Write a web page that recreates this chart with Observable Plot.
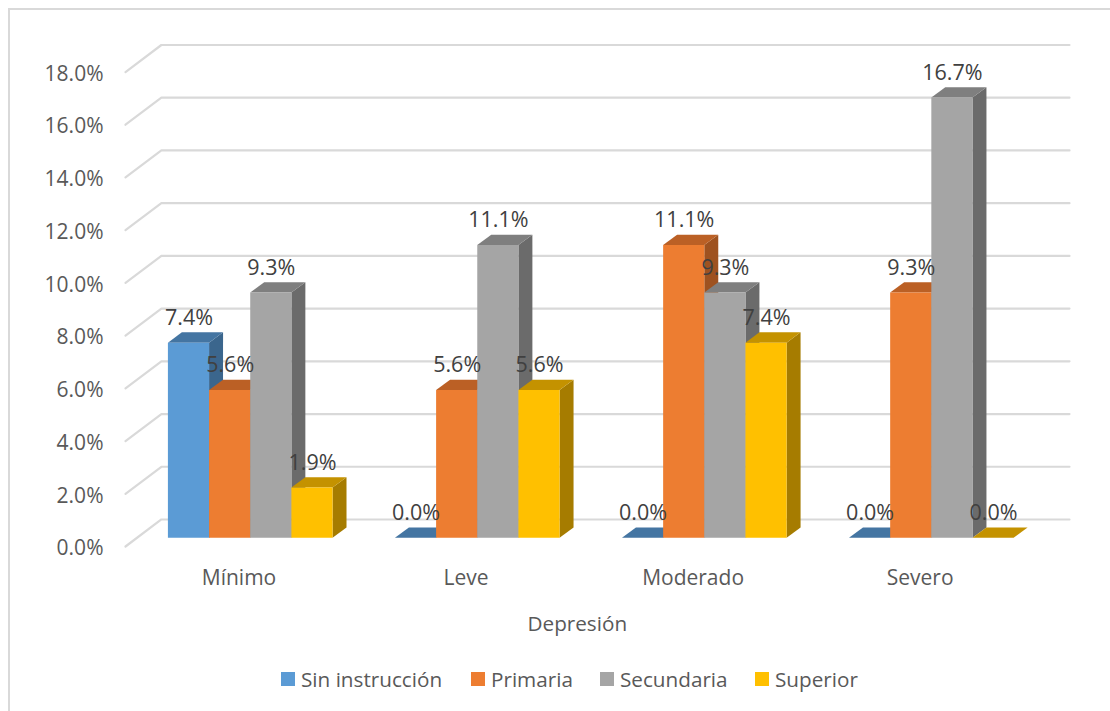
<!DOCTYPE html>
<html lang="es">
<head>
<meta charset="utf-8">
<script src="https://cdn.jsdelivr.net/npm/d3@7"></script>
<script src="https://cdn.jsdelivr.net/npm/@observablehq/plot@0.6"></script>
<style>
  html, body { margin: 0; padding: 0; background: #fff; overflow: hidden; }
  #chart { position: relative; width: 1110px; height: 711px; box-sizing: border-box; font-family: "Open Sans", sans-serif; }
  #frame { position: absolute; left: 8px; top: 8px; right: 0; bottom: 0; border-left: 2.5px solid #d9d9d9; border-top: 2.5px solid #d9d9d9; }
  #plot { position: absolute; left: 0; top: 0; }
  #plot svg { background: transparent; }
  #legend { position: absolute; left: 0; top: 664px; width: 1110px; height: 30px; }
  .item { position: absolute; top: 0; height: 30px; display: flex; align-items: center; color: #595959; font-size: 20.7px; white-space: nowrap; }
  .swatch { display: inline-block; width: 14px; height: 14px; margin-right: 6px; }
</style>
</head>
<body>
<div id="chart">
  <div id="frame"></div>
  <div id="plot"></div>
  <div id="legend"></div>
</div>
<script>
const categories = ["Mínimo", "Leve", "Moderado", "Severo"];
const sinInstruccion = [7.4, 0.0, 0.0, 0.0];
const primaria = [5.6, 5.6, 11.1, 9.3];
const secundaria = [9.3, 11.1, 9.3, 16.7];
const superior = [1.9, 5.6, 7.4, 0.0];
const seriesNames = ["Sin instrucción", "Primaria", "Secundaria", "Superior"];
const seriesValues = [sinInstruccion, primaria, secundaria, superior];
const yTicks = [0, 2, 4, 6, 8, 10, 12, 14, 16, 18];
const axisTitle = "Depresión";

// Shades per series: front, top, side
const frontColors = ["#5b9bd5", "#ed7d31", "#a5a5a5", "#ffc000"];
const topColors = ["#4475a2", "#bb6025", "#7f7f7f", "#c49200"];
const sideColors = ["#3b668d", "#9e5220", "#6b6b6b", "#a67c00"];
const legendX = [281, 471, 600, 755];

// Projection of the pseudo-3D box, in data units of the two scales
const floorDX = 0.158, floorDY = 1.025;   // depth of the chart floor
const barDX = 0.0615, barDY = 0.391;      // depth of a bar
const barBase = 0.315;                    // front edge of bars above the floor edge
const barStart = 0.189, barWidth = 0.1813;
const xMax = categories.length + floorDX;

const faces = [];
let id = 0;
categories.forEach((cat, g) => {
  seriesValues.forEach((vals, s) => {
    const x0 = g + barStart + s * barWidth, x1 = x0 + barWidth;
    const y0 = barBase, y1 = barBase + vals[g];
    // side face
    id++;
    faces.push({id, fill: sideColors[s], x: x1, y1: y0, y2: y1});
    faces.push({id, fill: sideColors[s], x: x1 + barDX, y1: y0 + barDY, y2: y1 + barDY});
    // top face
    id++;
    faces.push({id, fill: topColors[s], x: x0, y1: y1, y2: y1});
    faces.push({id, fill: topColors[s], x: x0 + barDX, y1: y1, y2: y1 + barDY});
    faces.push({id, fill: topColors[s], x: x1, y1: y1, y2: y1 + barDY});
    faces.push({id, fill: topColors[s], x: x1 + barDX, y1: y1 + barDY, y2: y1 + barDY});
    // front face
    id++;
    faces.push({id, fill: frontColors[s], x: x0, y1: y0, y2: y1});
    faces.push({id, fill: frontColors[s], x: x1, y1: y0, y2: y1});
  });
});

const grid = yTicks.flatMap(v => [
  {v, x: 0, y: v},
  {v, x: floorDX, y: v + floorDY},
  {v, x: xMax, y: v + floorDY}
]);

const labels = categories.flatMap((cat, g) => seriesValues.map((vals, s) => ({
  x: g + barStart + s * barWidth + barWidth / 2,
  y: barBase + vals[g],
  text: vals[g].toFixed(1) + "%"
})));

const fmt = d => d.toFixed(1) + "%";

const chart = Plot.plot({
  width: 1110,
  height: 660,
  marginLeft: 125,
  marginRight: 41,
  marginTop: 44.5,
  marginBottom: 114,
  style: {fontFamily: "'Open Sans', sans-serif", background: "transparent", overflow: "visible"},
  x: {domain: [0, xMax], axis: null},
  y: {domain: [0, 18 + floorDY], axis: null},
  marks: [
    Plot.line(grid, {x: "x", y: "y", z: "v", stroke: "#d9d9d9", strokeWidth: 2.2, curve: "linear"}),
    Plot.axisY({ticks: yTicks, tickFormat: fmt, tickSize: 0, tickPadding: 22, fontSize: 21, color: "#595959", label: null, dy: 2}),
    Plot.axisX({ticks: [0, 1, 2, 3].map(i => i + 0.5), tickFormat: d => categories[Math.floor(d)], tickSize: 0, tickPadding: 24, fontSize: 21, color: "#595959", label: null}),
    Plot.areaY(faces, {x: "x", y1: "y1", y2: "y2", z: "id", fill: "fill", curve: "linear"}),
    Plot.text(labels, {x: "x", y: "y", text: "text", dy: -25, fontSize: 21.5, fill: "#404040"}),
    Plot.text([axisTitle], {x: [1.99], y: [0], text: d => d, dy: 78, fontSize: 20.7, fill: "#595959"})
  ]
});
document.getElementById("plot").appendChild(chart);

const legend = document.getElementById("legend");
seriesNames.forEach((name, i) => {
  const item = document.createElement("div");
  item.className = "item";
  item.style.left = legendX[i] + "px";
  const sw = document.createElement("span");
  sw.className = "swatch";
  sw.style.background = frontColors[i];
  item.appendChild(sw);
  item.appendChild(document.createTextNode(name));
  legend.appendChild(item);
});
</script>
</body>
</html>
